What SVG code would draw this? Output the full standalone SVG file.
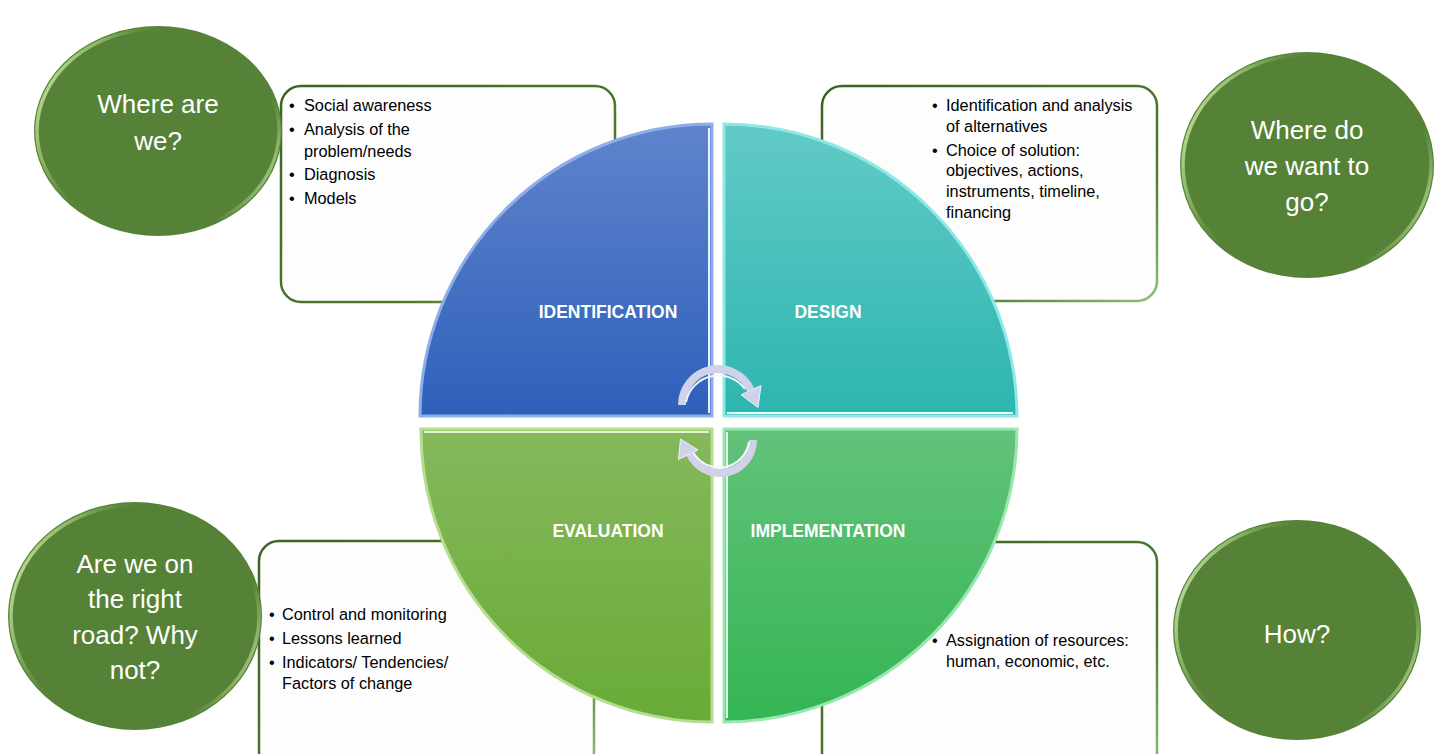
<svg xmlns="http://www.w3.org/2000/svg" width="1436" height="754" viewBox="0 0 1436 754">
<defs>
<linearGradient id="gBlue" x1="0" y1="0" x2="0" y2="1"><stop offset="0" stop-color="#5f84cc"/><stop offset="1" stop-color="#2e60ba"/></linearGradient>
<linearGradient id="gTeal" x1="0" y1="0" x2="0" y2="1"><stop offset="0" stop-color="#62cac6"/><stop offset="1" stop-color="#2db5b0"/></linearGradient>
<linearGradient id="gEval" x1="0" y1="0" x2="0" y2="1"><stop offset="0" stop-color="#86b85c"/><stop offset="1" stop-color="#68ab36"/></linearGradient>
<linearGradient id="gImpl" x1="0" y1="0" x2="0" y2="1"><stop offset="0" stop-color="#62c27a"/><stop offset="1" stop-color="#34b554"/></linearGradient>
<linearGradient id="gRim" x1="0" y1="0.2" x2="1" y2="0.6"><stop offset="0" stop-color="#d6efb4" stop-opacity="0.95"/><stop offset="0.18" stop-color="#a9d381" stop-opacity="0.6"/><stop offset="0.4" stop-color="#548235" stop-opacity="0"/><stop offset="0.88" stop-color="#8cc06a" stop-opacity="0"/><stop offset="1" stop-color="#c2e3a0" stop-opacity="0.6"/></linearGradient>
<linearGradient id="gBox" x1="0" y1="0" x2="1" y2="1"><stop offset="0" stop-color="#3d6320"/><stop offset="0.7" stop-color="#4f7a30"/><stop offset="1" stop-color="#8fc070"/></linearGradient>
<style>
.bubble{fill:#558236;}
.rim{fill:none;stroke:url(#gRim);stroke-width:3.5;}
.qtext{font-family:'Liberation Sans',Arial,sans-serif;font-size:26px;fill:#ffffff;text-anchor:middle;}
.box{fill:#fdfdfd;stroke:url(#gBox);stroke-width:2.5;}
.btext{font-family:'Liberation Sans',Arial,sans-serif;font-size:16.3px;fill:#000000;}
.lab{font-family:'Liberation Sans',Arial,sans-serif;font-size:17.5px;font-weight:bold;fill:#ffffff;text-anchor:middle;}
.arc{fill:none;stroke:#cfd2e8;stroke-width:8;}
.arcHi{fill:none;stroke:#f4f5fc;stroke-width:2;}
.head{fill:#cfd2e8;stroke:#eef0fa;stroke-width:1;}
</style>
</defs>
<rect width="1436" height="754" fill="#ffffff"/>

<g id="box-identification">
<rect class="box" x="281" y="86" width="334" height="216" rx="20"/>
<text class="btext" x="289" y="111">•</text><text class="btext" x="304" y="111">Social awareness</text>
<text class="btext" x="289" y="135">•</text><text class="btext" x="304" y="135">Analysis of the</text>
<text class="btext" x="304" y="157">problem/needs</text>
<text class="btext" x="289" y="180">•</text><text class="btext" x="304" y="180">Diagnosis</text>
<text class="btext" x="289" y="204">•</text><text class="btext" x="304" y="204">Models</text>
</g>

<g id="box-design">
<rect class="box" x="822" y="86" width="335" height="215" rx="20"/>
<text class="btext" x="932" y="111">•</text><text class="btext" x="946" y="111">Identification and analysis</text>
<text class="btext" x="946" y="132">of alternatives</text>
<text class="btext" x="932" y="156">•</text><text class="btext" x="946" y="156">Choice of solution:</text>
<text class="btext" x="946" y="176">objectives, actions,</text>
<text class="btext" x="946" y="197">instruments, timeline,</text>
<text class="btext" x="946" y="218">financing</text>
</g>

<g id="box-evaluation">
<rect class="box" x="259" y="541" width="335" height="230" rx="20"/>
<text class="btext" x="269" y="620">•</text><text class="btext" x="282" y="620">Control and monitoring</text>
<text class="btext" x="269" y="644">•</text><text class="btext" x="282" y="644">Lessons learned</text>
<text class="btext" x="269" y="668">•</text><text class="btext" x="282" y="668">Indicators/ Tendencies/</text>
<text class="btext" x="282" y="689">Factors of change</text>
</g>

<g id="box-implementation">
<rect class="box" x="822" y="542" width="335" height="230" rx="20"/>
<text class="btext" x="932" y="646">•</text><text class="btext" x="946" y="646">Assignation of resources:</text>
<text class="btext" x="946" y="667">human, economic, etc.</text>
</g>

<g id="q-identification">
<path d="M712,416 L712,124 A292,292 0 0 0 420,416 Z" fill="url(#gBlue)" stroke="#8eaeea" stroke-width="3"/>
<path d="M709,128 L709,413" stroke="#e6f0ff" stroke-width="2"/>
<text class="lab" x="608" y="318">IDENTIFICATION</text>
</g>
<g id="q-design">
<path d="M724,416 L724,124 A293,293 0 0 1 1017,416 Z" fill="url(#gTeal)" stroke="#8ee9e6" stroke-width="3"/>
<path d="M727,413 L1013,413" stroke="#e6ffff" stroke-width="2"/>
<text class="lab" x="828" y="318">DESIGN</text>
</g>
<g id="q-evaluation">
<path d="M712,429 L712,722 A291,291 0 0 1 421,429 Z" fill="url(#gEval)" stroke="#b6dc90" stroke-width="3"/>
<path d="M424,432 L709,432" stroke="#e2f5cf" stroke-width="2"/>
<text class="lab" x="608" y="537">EVALUATION</text>
</g>
<g id="q-implementation">
<path d="M724,429 L1017,429 A293,293 0 0 1 724,722 Z" fill="url(#gImpl)" stroke="#98e6b0" stroke-width="3"/>
<path d="M727,432 L727,718" stroke="#e0fbe8" stroke-width="2"/>
<text class="lab" x="828" y="537">IMPLEMENTATION</text>
</g>

<g id="connectors">
<path class="arc" d="M682,405 A36,36 0 0 1 750.6,389.8"/>
<path class="arcHi" d="M686,402 A33,33 0 0 1 745,389"/>
<polygon class="head" points="761,385.5 741,394.8 758,407.5"/>
<path class="arc" d="M753,440 A33,33 0 0 1 690.1,454"/>
<path class="arcHi" d="M749,442 A30,30 0 0 1 693,452"/>
<polygon class="head" points="678.5,459.5 698,450 680.5,439"/>
</g>

<g id="c-where-are-we">
<ellipse class="bubble" cx="158" cy="131" rx="124" ry="105"/>
<ellipse class="rim" cx="158" cy="131" rx="121" ry="102"/>
<text class="qtext" x="158" y="113">Where are</text>
<text class="qtext" x="158" y="150">we?</text>
</g>
<g id="c-where-go">
<ellipse class="bubble" cx="1307" cy="165" rx="127" ry="113"/>
<ellipse class="rim" cx="1307" cy="165" rx="124" ry="110"/>
<text class="qtext" x="1307" y="139">Where do</text>
<text class="qtext" x="1307" y="175">we want to</text>
<text class="qtext" x="1307" y="211">go?</text>
</g>
<g id="c-right-road">
<ellipse class="bubble" cx="135" cy="616" rx="127" ry="114"/>
<ellipse class="rim" cx="135" cy="616" rx="124" ry="111"/>
<text class="qtext" x="135" y="573">Are we on</text>
<text class="qtext" x="135" y="608">the right</text>
<text class="qtext" x="135" y="644">road? Why</text>
<text class="qtext" x="135" y="679">not?</text>
</g>
<g id="c-how">
<ellipse class="bubble" cx="1297" cy="630" rx="124" ry="110"/>
<ellipse class="rim" cx="1297" cy="630" rx="121" ry="107"/>
<text class="qtext" x="1297" y="643">How?</text>
</g>
</svg>
